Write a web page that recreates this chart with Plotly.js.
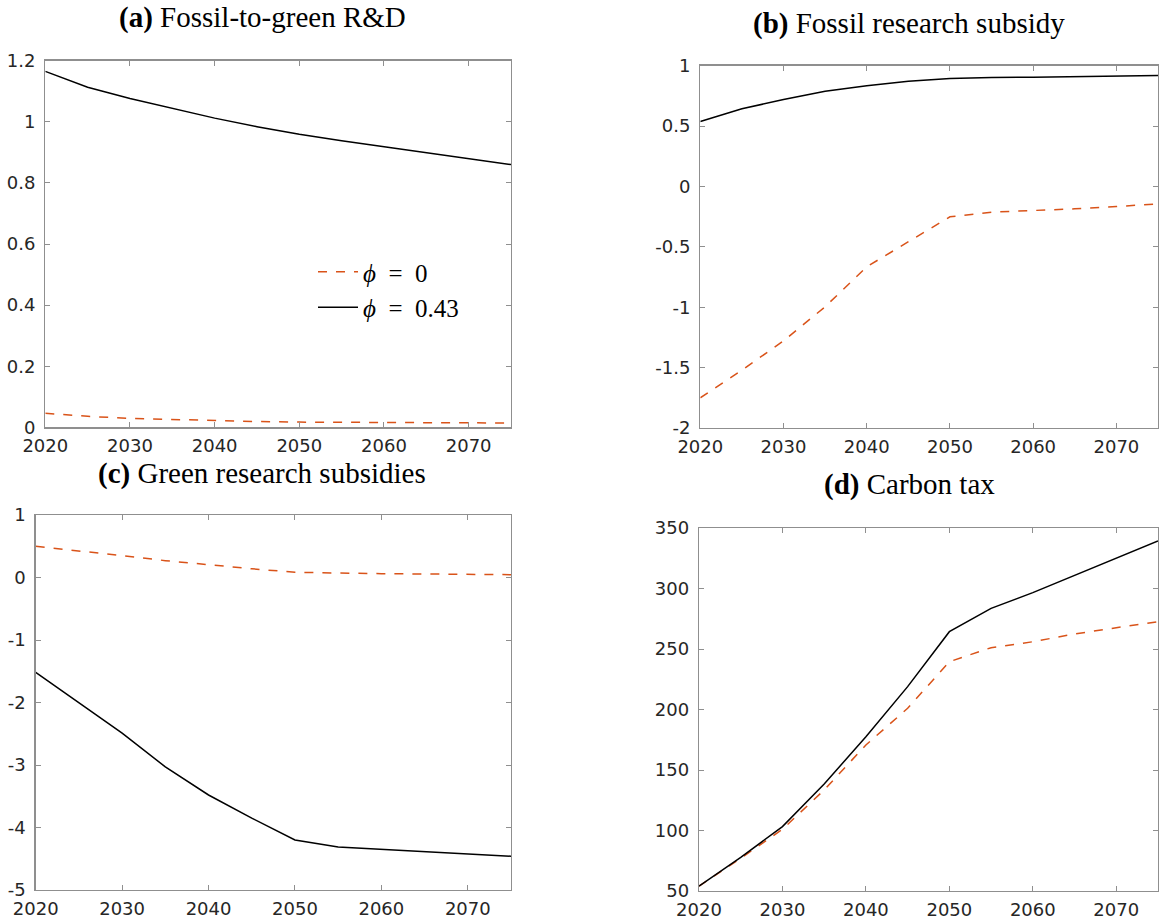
<!DOCTYPE html>
<html>
<head>
<meta charset="utf-8">
<script src="https://cdn.plot.ly/plotly-3.0.1.min.js"></script>
<style>html,body{margin:0;padding:0;background:#fff;}#chart{width:1159px;height:923px;}</style>
</head>
<body>
<div id="chart"></div>
<script>
// ---- data ----
const years = [2020, 2025, 2030, 2035, 2040, 2045, 2050, 2055, 2060, 2065, 2070, 2075];

// (a) Fossil-to-green R&D
const rdPhi0   = [0.046, 0.036, 0.029, 0.025, 0.022, 0.019, 0.017, 0.016, 0.015, 0.015, 0.014, 0.014];
const rdPhi043 = [1.165, 1.113, 1.076, 1.043, 1.012, 0.984, 0.959, 0.938, 0.918, 0.898, 0.878, 0.860];

// (b) Fossil research subsidy
const fsPhi0   = [-1.750, -1.521, -1.278, -0.996, -0.665, -0.458, -0.251, -0.213, -0.201, -0.185, -0.166, -0.144];
const fsPhi043 = [0.538, 0.643, 0.720, 0.789, 0.834, 0.872, 0.894, 0.903, 0.905, 0.911, 0.914, 0.919];

// (c) Green research subsidies
const gsPhi0   = [0.499, 0.43, 0.35, 0.27, 0.20, 0.14, 0.083, 0.067, 0.061, 0.056, 0.051, 0.045];
const gsPhi043 = [-1.517, -2.0, -2.49, -3.03, -3.48, -3.85, -4.20, -4.31, -4.35, -4.39, -4.42, -4.46];

// (d) Carbon tax
const ctPhi0   = [54.0, 77.0, 101.0, 133.5, 170.7, 201.0, 239.5, 251.1, 256.0, 262.4, 267.6, 272.6];
const ctPhi043 = [54.1, 77.8, 103.2, 138.4, 177.5, 218.9, 264.3, 283.6, 296.6, 310.9, 325.2, 339.3];

// tick labels
const xTicks = [2020, 2030, 2040, 2050, 2060, 2070];
const yTicksA = [0, 0.2, 0.4, 0.6, 0.8, 1, 1.2];
const yTextA  = ["0", "0.2", "0.4", "0.6", "0.8", "1", "1.2"];
const yTicksB = [-2, -1.5, -1, -0.5, 0, 0.5, 1];
const yTextB  = ["-2", "-1.5", "-1", "-0.5", "0", "0.5", "1"];
const yTicksC = [-5, -4, -3, -2, -1, 0, 1];
const yTextC  = ["-5", "-4", "-3", "-2", "-1", "0", "1"];
const yTicksD = [50, 100, 150, 200, 250, 300, 350];
const yTextD  = ["50", "100", "150", "200", "250", "300", "350"];

const seriesNames = ["<i>ϕ</i>\u2002=\u20020", "<i>ϕ</i>\u2002=\u20020.43"];
const panelTitles = [
  "<b>(a)</b> Fossil-to-green R&amp;D",
  "<b>(b)</b> Fossil research subsidy",
  "<b>(c)</b> Green research subsidies",
  "<b>(d)</b> Carbon tax"
];

// ---- styling ----
const RED = "#D95319";
const BLACK = "#000000";
const W = 1159, H = 923;

function trace(y, idx, xa, ya, showLegend) {
  return {
    x: years, y: y, xaxis: xa, yaxis: ya, type: "scatter", mode: "lines",
    name: seriesNames[idx], showlegend: showLegend,
    line: idx === 0 ? {color: RED, width: 1.5, dash: "dash"} : {color: BLACK, width: 1.5},
    hoverinfo: "skip"
  };
}

const data = [
  trace(rdPhi0, 0, "x", "y", true),
  trace(rdPhi043, 1, "x", "y", true),
  trace(fsPhi0, 0, "x2", "y2", false),
  trace(fsPhi043, 1, "x2", "y2", false),
  trace(gsPhi0, 0, "x3", "y3", false),
  trace(gsPhi043, 1, "x3", "y3", false),
  trace(ctPhi0, 0, "x4", "y4", false),
  trace(ctPhi043, 1, "x4", "y4", false)
];

const tickFont = {family: "DejaVu Sans", size: 18, color: "#262626"};
const AXC = "#8f8f8f";

function xAxis(l, r, anchor) {
  return {
    domain: [l / W, r / W], anchor: anchor, range: [2020, 2075],
    tickvals: xTicks, ticktext: xTicks.map(String),
    ticks: "inside", ticklen: 5, tickcolor: AXC, tickwidth: 1,
    showline: true, linecolor: AXC, linewidth: 1.3, mirror: "ticks",
    showgrid: false, zeroline: false, tickfont: tickFont, ticklabelstandoff: 2
  };
}
function yAxis(top, bottom, anchor, range, vals, text) {
  return {
    domain: [1 - bottom / H, 1 - top / H], anchor: anchor, range: range,
    tickvals: vals, ticktext: text,
    ticks: "inside", ticklen: 5, tickcolor: AXC, tickwidth: 1,
    showline: true, linecolor: AXC, linewidth: 1.3, mirror: "ticks",
    showgrid: false, zeroline: false, tickfont: tickFont, ticklabelstandoff: 5
  };
}

const titleFont = {family: "Liberation Serif", size: 29, color: "#000"};
function titleAnn(text, cx, cy) {
  return {text: text, xref: "paper", yref: "paper", x: cx / W, y: 1 - cy / H,
          xanchor: "center", yanchor: "middle", showarrow: false, font: titleFont};
}

const layout = {
  width: W, height: H,
  margin: {l: 0, r: 0, t: 0, b: 0},
  paper_bgcolor: "#fff", plot_bgcolor: "#fff",
  showlegend: true,
  legend: {
    x: 313 / W, y: 1 - 249 / H, xanchor: "left", yanchor: "top",
    bgcolor: "rgba(0,0,0,0)", borderwidth: 0, itemwidth: 40,
    font: {family: "Liberation Serif", size: 25, color: "#000"},
    tracegroupgap: 0
  },
  xaxis: xAxis(45.3, 511, "y"),
  yaxis: yAxis(60.7, 427.3, "x", [0, 1.2], yTicksA, yTextA),
  xaxis2: xAxis(700.3, 1158, "y2"),
  yaxis2: yAxis(65.7, 428, "x2", [-2, 1], yTicksB, yTextB),
  xaxis3: xAxis(35.7, 511, "y3"),
  yaxis3: yAxis(515, 890, "x3", [-5, 1], yTicksC, yTextC),
  xaxis4: xAxis(699, 1158, "y4"),
  yaxis4: yAxis(528, 891, "x4", [50, 350], yTicksD, yTextD),
  annotations: [
    titleAnn(panelTitles[0], 262, 17),
    titleAnn(panelTitles[1], 909, 23),
    titleAnn(panelTitles[2], 262, 473.5),
    titleAnn(panelTitles[3], 909.5, 484.5)
  ]
};

Plotly.newPlot("chart", data, layout, {displayModeBar: false, staticPlot: true});
</script>
</body>
</html>
